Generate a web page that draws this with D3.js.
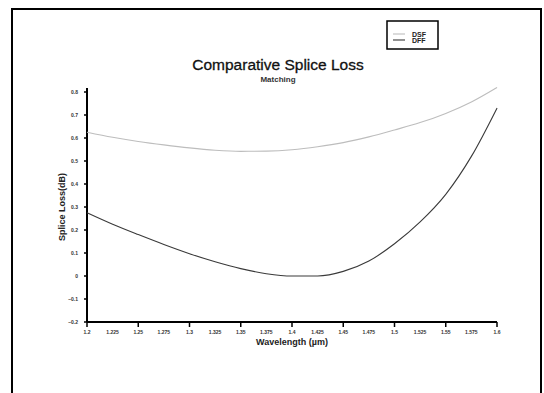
<!DOCTYPE html>
<html>
<head>
<meta charset="utf-8">
<script src="https://cdn.jsdelivr.net/npm/d3@7"></script>
<style>
  body { margin: 0; background: #fff; }
  text { font-family: "Liberation Sans", Arial, sans-serif; }
</style>
</head>
<body>
<div id="chart"></div>
<script>
const wavelengths = [1.2, 1.225, 1.25, 1.275, 1.3, 1.325, 1.35, 1.375, 1.4,
  1.425, 1.45, 1.475, 1.5, 1.525, 1.55, 1.575, 1.6];
const dsf = [0.625, 0.603, 0.585, 0.57, 0.557, 0.547, 0.542, 0.543, 0.549,
  0.562, 0.58, 0.605, 0.635, 0.667, 0.707, 0.757, 0.82];
const dff = [0.275, 0.225, 0.18, 0.137, 0.097, 0.062, 0.032, 0.01, 0.0,
  0.0, 0.02, 0.065, 0.14, 0.235, 0.355, 0.52, 0.73];
const xLabels = wavelengths;
const yTicks = [0.8, 0.7, 0.6, 0.5, 0.4, 0.3, 0.2, 0.1, 0, -0.1, -0.2];
const seriesNames = ['DSF', 'DFF'];
const seriesColors = ['#bdbdbd', '#3a3a3a'];

const width = 544, height = 393;

const svg = d3.select('#chart').append('svg')
  .attr('width', width)
  .attr('height', height);

// page frame (runs off the bottom)
svg.append('rect')
  .attr('x', 12).attr('y', 9)
  .attr('width', 529).attr('height', 420)
  .attr('fill', 'none').attr('stroke', '#000').attr('stroke-width', 2);

const x = d3.scaleLinear().domain([1.2, 1.6]).range([87, 497]);
const y = d3.scaleLinear().domain([-0.2, 0.8]).range([322, 92]);

// x axis
const xAxis = svg.append('g').attr('transform', `translate(0,${y(-0.2)})`);
xAxis.append('line')
  .attr('x1', x(1.2)).attr('x2', x(1.6))
  .attr('stroke', '#000').attr('stroke-width', 2);
xAxis.selectAll('.tk').data(d3.range(0, 9).map(i => 1.2 + i * 0.05))
  .enter().append('line')
  .attr('x1', d => x(d)).attr('x2', d => x(d))
  .attr('y1', 0).attr('y2', 5)
  .attr('stroke', '#000').attr('stroke-width', 1.5);
xAxis.selectAll('text').data(xLabels).enter().append('text')
  .attr('x', d => x(d)).attr('y', 12)
  .attr('text-anchor', 'middle')
  .attr('font-size', 5)
  .attr('font-weight', 'bold')
  .attr('fill', '#333')
  .text(d => +d.toFixed(3));

// y axis
const yAxis = svg.append('g').attr('transform', `translate(${x(1.2)},0)`);
yAxis.append('line')
  .attr('y1', 88).attr('y2', y(-0.2))
  .attr('stroke', '#000').attr('stroke-width', 2);
yAxis.selectAll('.tk').data(yTicks).enter().append('line')
  .attr('x1', -3).attr('x2', 0)
  .attr('y1', d => y(d)).attr('y2', d => y(d))
  .attr('stroke', '#000').attr('stroke-width', 1.5);
yAxis.selectAll('text').data(yTicks).enter().append('text')
  .attr('x', -9).attr('y', d => y(d) + 2)
  .attr('text-anchor', 'end')
  .attr('font-size', 5)
  .attr('font-weight', 'bold')
  .attr('fill', '#333')
  .text(d => d3.format('.1~f')(d));

// curves
const line = d3.line()
  .x((d, i) => x(wavelengths[i]))
  .y(d => y(d))
  .curve(d3.curveMonotoneX);

[dsf, dff].forEach((s, k) => {
  svg.append('path')
    .attr('d', line(s))
    .attr('fill', 'none')
    .attr('stroke', seriesColors[k])
    .attr('stroke-width', 1.1);
});

// titles
svg.append('text')
  .attr('x', 278).attr('y', 70)
  .attr('text-anchor', 'middle')
  .attr('font-size', 15.5)
  .attr('fill', '#111')
  .attr('stroke', '#111').attr('stroke-width', 0.3)
  .text('Comparative Splice Loss');
svg.append('text')
  .attr('x', 278).attr('y', 82)
  .attr('text-anchor', 'middle')
  .attr('font-size', 8)
  .attr('font-weight', 'bold')
  .attr('fill', '#333')
  .text('Matching');

svg.append('text')
  .attr('x', 292).attr('y', 345)
  .attr('text-anchor', 'middle')
  .attr('font-size', 9)
  .attr('font-weight', 'bold')
  .attr('fill', '#222')
  .text('Wavelength (\u00b5m)');
svg.append('text')
  .attr('transform', 'translate(65,207) rotate(-90)')
  .attr('text-anchor', 'middle')
  .attr('font-size', 9)
  .attr('font-weight', 'bold')
  .attr('fill', '#222')
  .text('Splice Loss(dB)');

// legend
const legend = svg.append('g');
legend.append('rect')
  .attr('x', 387).attr('y', 21)
  .attr('width', 51).attr('height', 28)
  .attr('fill', '#fff').attr('stroke', '#000').attr('stroke-width', 1.5);
seriesNames.forEach((name, k) => {
  const ly = 34 + k * 6;
  legend.append('line')
    .attr('x1', 393).attr('x2', 405)
    .attr('y1', ly).attr('y2', ly)
    .attr('stroke', seriesColors[k]).attr('stroke-width', 1.1);
  legend.append('text')
    .attr('x', 412).attr('y', ly + 2.5)
    .attr('font-size', 7)
    .attr('font-weight', 'bold')
    .attr('fill', '#222')
    .text(name);
});
</script>
</body>
</html>
